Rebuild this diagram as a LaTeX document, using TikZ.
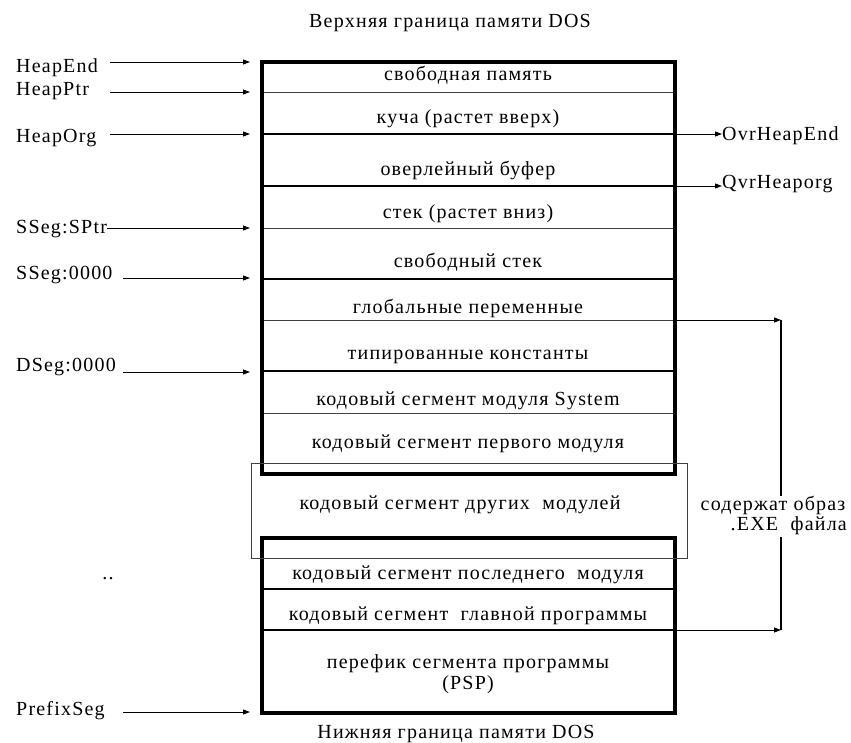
\documentclass[tikz,border=0pt]{standalone}
\usepackage{fontspec}
\setmainfont{Liberation Serif}[LetterSpace=6]
\usetikzlibrary{arrows.meta}
\begin{document}
\begin{tikzpicture}[x=1pt,y=-1pt,
  every node/.style={inner sep=0pt,text height=14pt,text depth=4pt,font=\fontsize{20}{22}\selectfont},
  lbl/.style={anchor=west},
  frame/.style={line width=4pt},
  rowthick/.style={line width=1.6pt},
  rowthin/.style={line width=0.8pt,black!75},
  thinbox/.style={line width=0.8pt,black!75},
  ptr/.style={line width=0.9pt,-{Triangle[length=7pt,width=5pt]}}]
\useasboundingbox (0,0) rectangle (851,742);
% titles
\node (top) at (450,22) {Верхняя граница памяти DOS};
\node (bot) at (456,733) {Нижняя граница памяти DOS};
% upper box
\draw[rowthin] (262,92) -- (675,92);
\draw[rowthick] (262,134) -- (675,134);
\draw[rowthick] (262,186) -- (675,186);
\draw[rowthin] (262,228) -- (675,228);
\draw[rowthick] (262,279) -- (675,279);
\draw[rowthin] (262,320) -- (675,320);
\draw[rowthick] (262,371) -- (675,371);
\draw[rowthin] (262,413) -- (675,413);
\draw[frame] (262,62) rectangle (675,474);
% lower box
\draw[rowthick] (262,589) -- (675,589);
\draw[rowthick] (262,630) -- (675,630);
\draw[frame] (262,538) rectangle (675,713);
% thin box
\draw[thinbox] (251,463) rectangle (687,558);
% row texts
\node (r1) at (468,75) {свободная память};
\node (r2) at (468,118) {куча (растет вверх)};
\node (r3) at (468,170) {оверлейный буфер};
\node (r4) at (468,213) {стек (растет вниз)};
\node (r5) at (468,262) {свободный стек};
\node (r6) at (468,308) {глобальные переменные};
\node (r7) at (468,354) {типированные константы};
\node (r8) at (468,400) {кодовый сегмент модуля System};
\node (r9) at (468,443) {кодовый сегмент первого модуля};
\node (r10) at (460,504) {кодовый сегмент других\ \ модулей};
\node (r11) at (468,574) {кодовый сегмент последнего\ \ модуля};
\node (r12) at (468,615) {кодовый сегмент\ \ главной программы};
\node (r13) at (468,663) {перефик сегмента программы};
\node (r14) at (468,684) {(PSP)};
% left labels
\node[lbl] (heapend) at (16,67) {HeapEnd};
\node[lbl] (heapptr) at (16,90) {HeapPtr};
\node[lbl] (heaporg) at (16,137) {HeapOrg};
\node[lbl] (ssegsp) at (16,228) {SSeg:SPtr};
\node[lbl] (sseg0) at (16,274) {SSeg:0000};
\node[lbl] (dseg0) at (16,366) {DSeg:0000};
\node[anchor=base] (dots) at (108,579) {..};
\node[lbl] (prefix) at (16,710) {PrefixSeg};
\coordinate (a1s) at (110,62);  \coordinate (a1e) at (250,62);
\coordinate (a2s) at (110,92);  \coordinate (a2e) at (250,92);
\coordinate (a3s) at (110,134); \coordinate (a3e) at (250,134);
\coordinate (a4e) at (250,228);
\coordinate (a5s) at (123,278); \coordinate (a5e) at (250,278);
\coordinate (a6s) at (123,372); \coordinate (a6e) at (250,372);
\coordinate (a7s) at (123,712); \coordinate (a7e) at (250,712);
\draw[ptr] (a1s) -- (a1e);
\draw[ptr] (a2s) -- (a2e);
\draw[ptr] (a3s) -- (a3e);
\draw[ptr] (ssegsp.east) -- (a4e);
\draw[ptr] (a5s) -- (a5e);
\draw[ptr] (a6s) -- (a6e);
\draw[ptr] (a7s) -- (a7e);
% right labels
\node[lbl] (ovrend) at (722,135) {OvrHeapEnd};
\node[lbl] (ovrorg) at (722,183) {QvrHeaporg};
\coordinate (b1) at (677,134);
\coordinate (b2) at (677,186);
\draw[ptr] (b1) -- (ovrend.west |- b1);
\draw[ptr] (b2) -- (ovrorg.west |- b2);
% bracket
\coordinate (g1) at (677,320);
\coordinate (g2) at (677,630);
\coordinate (v1) at (781,320);
\coordinate (v2) at (781,630);
\coordinate (gapt) at (781,496);
\coordinate (gapb) at (781,537);
\draw[ptr] (g1) -- (v1);
\draw[ptr] (g2) -- (v2);
\draw[line width=1.2pt] (v1) -- (gapt);
\draw[line width=1.2pt] (gapb) -- (v2);
\node (exe1) at (773,505) {содержат образ};
\node[anchor=east] (exe2) at (847,525) {.EXE\ \ файла};
\end{tikzpicture}
\end{document}
